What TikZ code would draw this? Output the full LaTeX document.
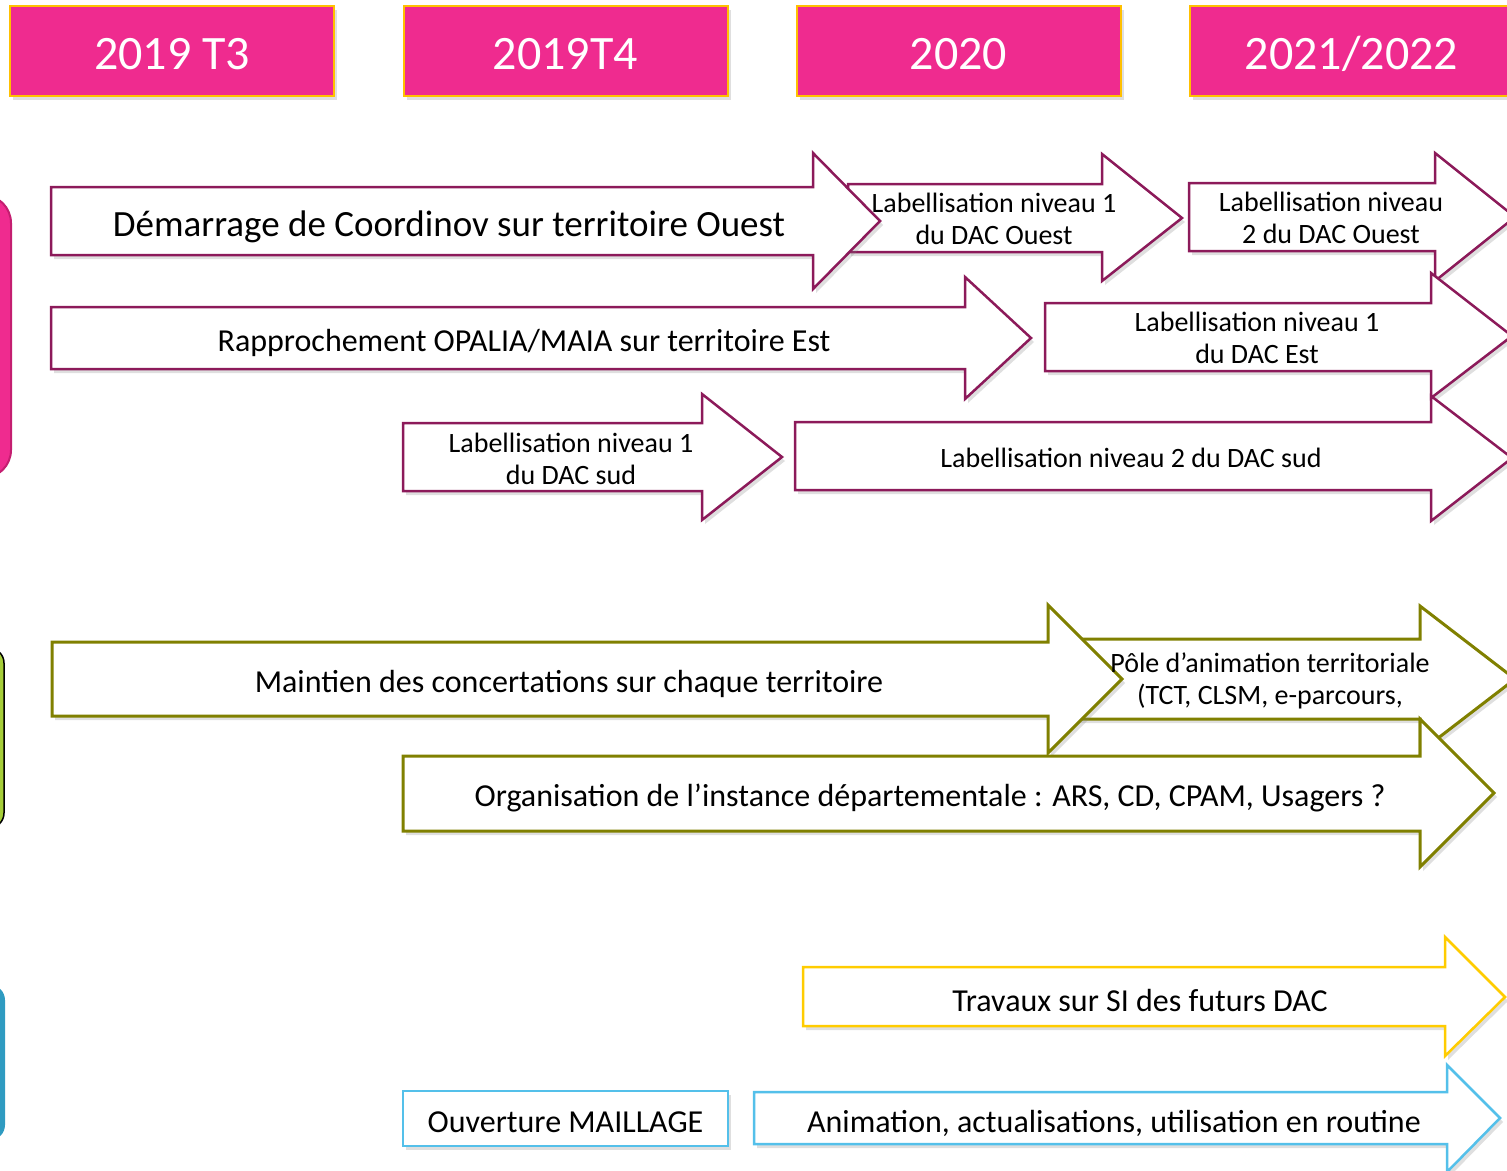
\documentclass[tikz,border=0pt]{standalone}
\usepackage{fontspec}
\setmainfont{Carlito}
\usetikzlibrary{positioning}
\usetikzlibrary{shadows}

\definecolor{headpink}{RGB}{239,43,143}
\definecolor{headgold}{RGB}{255,192,0}
\definecolor{tabpink}{RGB}{196,30,112}
\definecolor{tabgreen}{RGB}{166,206,57}
\definecolor{tabblue}{RGB}{47,155,193}
\definecolor{plumline}{RGB}{140,26,90}
\definecolor{oliveline}{RGB}{128,128,0}
\definecolor{sunline}{RGB}{255,204,0}
\definecolor{skyline}{RGB}{84,192,234}

\begin{document}
\begin{tikzpicture}[x=1pt,y=-1pt]
\tikzstyle{shade} =[drop shadow={opacity=0.25,shadow xshift=3pt,shadow yshift=-4pt}]
\tikzstyle{period} =[rectangle,fill=headpink,draw=headgold,line width=2pt,shade,minimum width=324pt,minimum height=90pt,inner sep=0pt,text=white,text height=36pt,text depth=0pt,font=\fontsize{48}{58}\selectfont]
\tikzstyle{plumarrow} =[draw=plumline,line width=2.5pt,fill=white,shade]
\tikzstyle{olivearrow} =[draw=oliveline,line width=3pt,fill=white,shade]
\tikzstyle{sunarrow} =[draw=sunline,line width=2.5pt,fill=white,shade]
\tikzstyle{skyarrow} =[draw=skyline,line width=2.5pt,fill=white,shade]
\tikzstyle{bigtext} =[font=\fontsize{37}{44}\selectfont]
\tikzstyle{midtext} =[font=\fontsize{32}{38}\selectfont]
\tikzstyle{smalltext} =[align=center,font=\fontsize{28}{32}\selectfont]
\useasboundingbox (0,0) rectangle (1507,1170);
\clip (0,0) rectangle (1507,1170);

% side tabs
\draw[fill=headpink,draw=tabpink,line width=2pt,rounded corners=28pt] (-60,195) rectangle (11,478);
\draw[fill=tabgreen,draw=black,line width=1.5pt,rounded corners=15pt] (-60,648) rectangle (4,828);
\draw[fill=tabblue,draw=none,rounded corners=15pt] (-60,985) rectangle (5,1140);

% periods
\node[period](t3) at (172,51) {2019 T3};
\node[period](t4) at (565.5,51) {2019T4};
\node[period](y20) at (958.5,51) {2020};
\node[period](y21) at (1351.5,51) {2021/2022};

% DAC arrows
\draw[plumarrow] (848,184)--(1102,184)--(1102,154)--(1182,218)--(1102,281)--(1102,252)--(848,252)--cycle;
\draw[plumarrow] (51,187)--(813,187)--(813,153)--(880,221)--(813,289)--(813,255)--(51,255)--cycle;
\draw[plumarrow] (1189,183)--(1435,183)--(1435,153)--(1515,217)--(1435,281)--(1435,251)--(1189,251)--cycle;
\draw[plumarrow] (51,307)--(965,307)--(965,277)--(1031,338)--(965,399)--(965,369)--(51,369)--cycle;
\draw[plumarrow] (1045,303)--(1431,303)--(1431,273)--(1512,336)--(1431,398)--(1431,371)--(1045,371)--cycle;
\draw[plumarrow] (403,423)--(702,423)--(702,394)--(782,457)--(702,520)--(702,491)--(403,491)--cycle;
\draw[plumarrow] (795,422)--(1431,422)--(1431,396)--(1512,458)--(1431,521)--(1431,490)--(795,490)--cycle;

% concertation arrows
\draw[olivearrow] (1060,639)--(1420,639)--(1420,606)--(1515,679)--(1420,752)--(1420,719)--(1060,719)--cycle;
\draw[olivearrow] (52,642)--(1048,642)--(1048,605)--(1122,679)--(1048,753)--(1048,716)--(52,716)--cycle;
\draw[olivearrow] (403,756)--(1420,756)--(1420,719)--(1494,793)--(1420,867)--(1420,831)--(403,831)--cycle;

% SI arrows
\draw[sunarrow] (803,967)--(1445,967)--(1445,937)--(1505,997)--(1445,1056)--(1445,1026)--(803,1026)--cycle;
\draw[skyarrow] (754,1092)--(1447,1092)--(1447,1065)--(1500,1118)--(1447,1172)--(1447,1144)--(754,1144)--cycle;
\node[draw=skyline,line width=2.5pt,fill=white,shade,minimum width=325pt,minimum height=55pt,text height=27pt,text depth=0pt,midtext](maillage) at (565.5,1118.5) {Ouverture MAILLAGE};

% labels
\node[bigtext](demarrage) at (449,227) {Démarrage de Coordinov sur territoire Ouest};
\node[smalltext](ouest1) at (994,219) {Labellisation niveau 1\\du DAC Ouest};
\node[smalltext](ouest2) at (1331,218) {Labellisation niveau\\2 du DAC Ouest};
\node[midtext](rapprochement) at (524,343) {Rapprochement OPALIA/MAIA sur territoire Est};
\node[smalltext](est1) at (1257,338) {Labellisation niveau 1\\du DAC Est};
\node[smalltext](sud1) at (571,459) {Labellisation niveau 1\\du DAC sud};
\node[smalltext](sud2) at (1131,458) {Labellisation niveau 2 du DAC sud};
\node[midtext](maintien) at (569,684) {Maintien des concertations sur chaque territoire};
\node[smalltext](pole) at (1270,681) {Pôle d’animation territoriale\\(TCT, CLSM, e-parcours,};
\node[midtext](instance) at (930,798) {Organisation de l’instance départementale : ARS, CD, CPAM, Usagers ?};
\node[midtext](travaux) at (1140,1000) {Travaux sur SI des futurs DAC};
\node[midtext](animation) at (1114,1123) {Animation, actualisations, utilisation en routine};
\end{tikzpicture}
\end{document}
